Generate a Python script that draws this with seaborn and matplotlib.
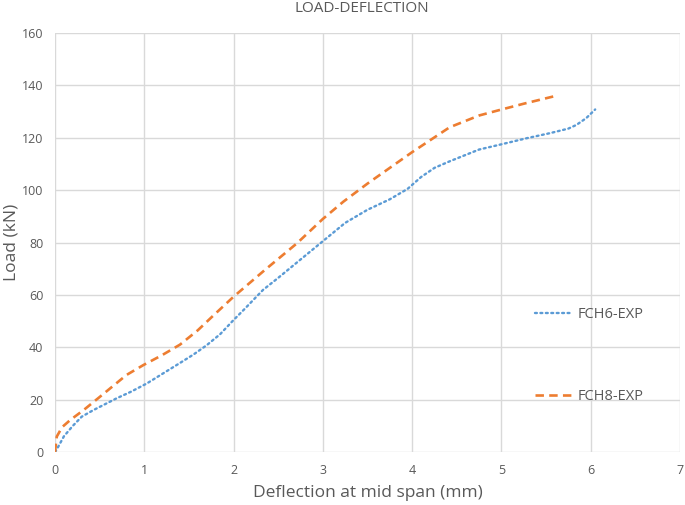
import matplotlib
matplotlib.use("Agg")
import matplotlib.pyplot as plt
import seaborn as sns
import pandas as pd

# Data
fch6_x = [0, 0.02, 0.1, 0.2, 0.3, 0.43, 0.69, 0.85, 1.03, 1.21, 1.4, 1.55, 1.7, 1.85, 2.0, 2.12, 2.33, 2.5, 2.75, 3.0, 3.25, 3.5, 3.75, 3.95, 4.1, 4.25, 4.42, 4.75, 5.0, 5.28, 5.55, 5.75, 5.84, 5.95, 6.05]
fch6_y = [0, 1, 6, 10, 13.5, 16, 20.5, 23, 26.2, 30, 34, 37.2, 40.8, 45, 50.4, 54.5, 61.9, 66.5, 73.5, 80.5, 87.5, 92.5, 96.5, 100.5, 105, 108.5, 111, 115.5, 117.5, 119.8, 121.8, 123.5, 124.9, 127.5, 130.8]
fch8_x = [0, 0.02, 0.08, 0.17, 0.32, 0.5, 0.8, 0.99, 1.2, 1.4, 1.6, 1.77, 2.0, 2.35, 2.71, 3.0, 3.23, 3.5, 4.0, 4.42, 4.75, 4.98, 5.25, 5.61]
fch8_y = [0, 5.9, 9.5, 12.2, 16, 21, 29.4, 33.2, 37, 41, 46.5, 52, 59.3, 69.5, 79.7, 89, 95.6, 102.5, 114.5, 124, 128.5, 130.6, 133, 136]
series_names = ["FCH6-EXP", "FCH8-EXP"]

df = pd.concat([
    pd.DataFrame({"x": fch6_x, "y": fch6_y, "series": series_names[0]}),
    pd.DataFrame({"x": fch8_x, "y": fch8_y, "series": series_names[1]}),
], ignore_index=True)

sns.set_style("white")
plt.rcParams["font.family"] = ["Open Sans", "DejaVu Sans"]

fig = plt.figure(figsize=(6.85, 5.05), dpi=100)
ax = fig.add_axes([55/685, 53/505, 625/685, 419/505])

blue = "#5B9BD5"
orange = "#ED7D31"
sns.lineplot(data=df[df.series == series_names[0]], x="x", y="y", sort=False,
             ax=ax, color=blue, lw=1.7, label=series_names[0], estimator=None)
sns.lineplot(data=df[df.series == series_names[1]], x="x", y="y", sort=False,
             ax=ax, color=orange, lw=1.9, label=series_names[1], estimator=None)
l1, l2 = ax.get_lines()[:2]
l1.set_dashes((0.8, 1.5))
l1.set_dash_capstyle("round")
l2.set_dashes((3.2, 2.0))

ax.set_xlim(0, 7)
ax.set_ylim(0, 160)
ax.set_xticks(range(0, 8))
ax.set_yticks(range(0, 161, 20))
ax.grid(True, color="#D9D9D9", lw=1)
ax.set_axisbelow(True)
for s in ax.spines.values():
    s.set_visible(False)
ax.tick_params(axis="both", length=0, colors="#595959", labelsize=9)
ax.tick_params(axis="x", pad=9)
ax.tick_params(axis="y", pad=8.5)

ax.set_xlabel("Deflection at mid span (mm)", fontsize=12.5, color="#595959", va="center")
ax.xaxis.set_label_coords(0.5, -(493 - 452) / 419)
ax.set_ylabel("Load (kN)", fontsize=12.5, color="#595959", va="center")
ax.yaxis.set_label_coords(-(55 - 11) / 625, 0.5)
fig.text(362/685, 1 - 9/505, "LOAD-DEFLECTION", ha="center", va="center",
         fontsize=11, color="#595959")

leg = ax.legend(loc="upper left", bbox_to_anchor=(474/625, 1 - (301 - 33)/419),
                frameon=False, fontsize=10.5, handlelength=2.6, handletextpad=0.35,
                labelspacing=4.6, labelcolor="#595959", borderaxespad=0)

fig.savefig("out.png", dpi=100)
